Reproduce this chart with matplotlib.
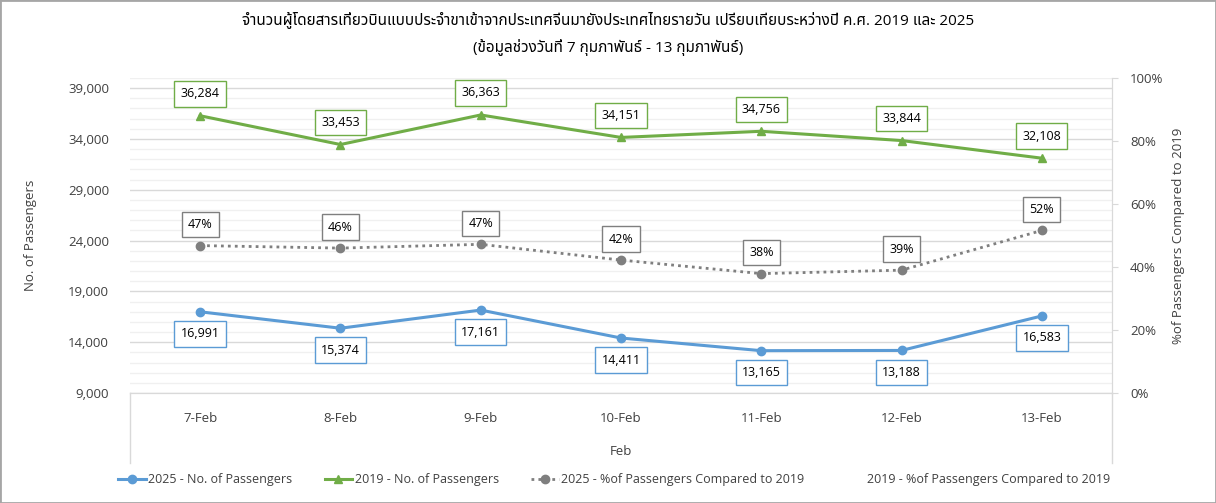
import matplotlib.pyplot as plt
from matplotlib.ticker import FuncFormatter, MultipleLocator
from matplotlib.lines import Line2D

days = ['7-Feb', '8-Feb', '9-Feb', '10-Feb', '11-Feb', '12-Feb', '13-Feb']
pax_2025 = [16991, 15374, 17161, 14411, 13165, 13188, 16583]
pax_2019 = [36284, 33453, 36363, 34151, 34756, 33844, 32108]
pct_2025 = [0.468, 0.460, 0.472, 0.422, 0.379, 0.390, 0.516]

blue = '#5B9BD5'
green = '#70AD47'
grey = '#7F7F7F'
txt = '#404040'

plt.rcParams['font.family'] = ['Open Sans', 'Noto Sans Thai', 'Noto Sans', 'DejaVu Sans']
plt.rcParams['font.size'] = 9

fig = plt.figure(figsize=(12.16, 5.03), dpi=100)
W, H = 1216, 503
ax = fig.add_axes([130 / W, 1 - 393 / H, (1112 - 130) / W, (393 - 78) / H])
ax2 = ax.twinx()

x = list(range(len(days)))
ax.plot(x, pax_2025, color=blue, lw=2.2, marker='o', ms=6, zorder=3)
ax.plot(x, pax_2019, color=green, lw=2.2, marker='^', ms=6, zorder=3)
ax2.plot(x, pct_2025, color=grey, lw=2, ls=(0, (1, 1.5)), marker='o', ms=6, zorder=3)

ax.set_xlim(-0.5, 6.5)
ax.set_ylim(9000, 40000)
ax.set_yticks(range(9000, 40000, 5000))
ax.yaxis.set_minor_locator(MultipleLocator(1000))
ax.yaxis.set_major_formatter(FuncFormatter(lambda v, p: f'{int(v):,}'))
ax.grid(axis='y', which='major', color='#D9D9D9', lw=1)
ax.grid(axis='y', which='minor', color='#F0F0F0', lw=1)
ax.set_axisbelow(True)
ax.set_xticks(x)
ax.set_xticklabels(days)
ax.tick_params(axis='x', length=0, pad=14, labelsize=9.5, colors=txt)
ax.tick_params(axis='y', which='both', length=0, pad=15, labelsize=9.5, colors=txt)

ax2.set_ylim(0, 1)
ax2.set_yticks([0, 0.2, 0.4, 0.6, 0.8, 1.0])
ax2.yaxis.set_major_formatter(FuncFormatter(lambda v, p: f'{v * 100:.0f}%'))
ax2.tick_params(axis='y', length=4, color='#D9D9D9', pad=9, labelsize=9.5, colors=txt)

for a in (ax, ax2):
    for s in ['top', 'left']:
        a.spines[s].set_visible(False)
    a.spines['bottom'].set_color('#D9D9D9')
    a.spines['right'].set_color('#D9D9D9')

ax.set_xlabel('Feb', color=txt, fontsize=9.5, labelpad=14)
ax.set_ylabel('No. of Passengers', color=txt, fontsize=9.5, labelpad=22)
ax2.set_ylabel('%of Passengers Compared to 2019', color=txt, fontsize=9.5, labelpad=6)

for i in x:
    ax.annotate(f'{pax_2019[i]:,}', (i, pax_2019[i]), xytext=(0, 22), textcoords='offset pixels',
                ha='center', va='center', color='black', fontsize=9,
                bbox=dict(boxstyle='square,pad=0.5', fc='white', ec=green, lw=1))
    ax.annotate(f'{pax_2025[i]:,}', (i, pax_2025[i]), xytext=(0, -22), textcoords='offset pixels',
                ha='center', va='center', color='black', fontsize=9,
                bbox=dict(boxstyle='square,pad=0.5', fc='white', ec=blue, lw=1))
    ax2.annotate(f'{pct_2025[i] * 100:.0f}%', (i, pct_2025[i]), xytext=(0, 21), textcoords='offset pixels',
                 ha='center', va='center', color='black', fontsize=9,
                 bbox=dict(boxstyle='square,pad=0.5', fc='white', ec=grey, lw=1))

# extended axis lines below the plot
fig.add_artist(Line2D([130 / W, 130 / W], [1 - 393 / H, 1 - 463 / H], color='#D9D9D9', lw=1))
fig.add_artist(Line2D([1112 / W, 1112 / W], [1 - 393 / H, 1 - 463 / H], color='#D9D9D9', lw=1))

fig.text(0.5, 1 - 20 / H, 'จำนวนผู้โดยสารเที่ยวบินแบบประจำขาเข้าจากประเทศจีนมายังประเทศไทยรายวัน เปรียบเทียบระหว่างปี ค.ศ. 2019 และ 2025',
         ha='center', va='center', fontsize=11, color='black')
fig.text(0.5, 1 - 47 / H, '(ข้อมูลช่วงวันที่ 7 กุมภาพันธ์ - 13 กุมภาพันธ์)',
         ha='center', va='center', fontsize=11, color='black')

handles = [
    Line2D([], [], color=blue, lw=2.2, marker='o', ms=6),
    Line2D([], [], color=green, lw=2.2, marker='^', ms=6),
    Line2D([], [], color=grey, lw=2, ls=(0, (1, 1.5)), marker='o', ms=6),
    Line2D([], [], color='none'),
]
labels = ['2025 - No. of Passengers', '2019 - No. of Passengers',
          '2025 - %of Passengers Compared to 2019', '2019 - %of Passengers Compared to 2019']
fig.legend(handles, labels, loc='center', bbox_to_anchor=(0.505, 1 - 480 / H), ncol=4, frameon=False,
           fontsize=9, handlelength=2.2, handletextpad=0.2, columnspacing=2.6, labelcolor=txt)

fig.add_artist(plt.Rectangle((0, 0), 1, 1, transform=fig.transFigure, fill=False, ec='#A6A6A6', lw=2))

fig.savefig('out.png', dpi=100)
